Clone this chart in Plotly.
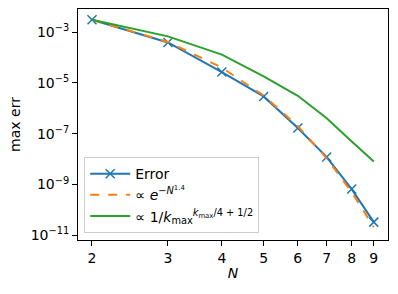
import plotly.graph_objects as go

N = [2, 3, 4, 5, 6, 7, 8, 9]
err = [3.05e-3, 3.89e-4, 2.66e-5, 2.92e-6, 1.66e-7, 1.20e-8, 6.6e-10, 3.3e-11]
fit_exp = [3.05e-3, 4.07e-4, 3.98e-5, 3.16e-6, 2.0e-7, 1.07e-8, 5.0e-10, 2.1e-11]
fit_k = [3.05e-3, 6.76e-4, 1.29e-4, 1.78e-5, 3.09e-6, 4.07e-7, 4.9e-8, 8.1e-9]
x_ticks = [2, 3, 4, 5, 6, 7, 8, 9]
y_ticks = [1e-3, 1e-5, 1e-7, 1e-9, 1e-11]
y_tick_text = ["10<sup>−3</sup>", "10<sup>−5</sup>", "10<sup>−7</sup>", "10<sup>−9</sup>", "10<sup>−11</sup>"]

font = "DejaVu Sans"
fig = go.Figure()
fig.add_trace(go.Scatter(x=N, y=err, mode="lines+markers", name="Error",
                         line=dict(color="#1f77b4", width=2),
                         marker=dict(symbol="x-thin", size=9, line=dict(color="#1f77b4", width=1.5))))
fig.add_trace(go.Scatter(x=N, y=fit_exp, mode="lines", name="∝ <i>e</i><sup>−<i>N</i><sup>1.4</sup></sup>",
                         line=dict(color="#ff7f0e", width=2, dash="dash")))
fig.add_trace(go.Scatter(x=N, y=fit_k, mode="lines",
                         name="∝ 1/<i>k</i><sub>max</sub><sup><i>k</i><sub>max</sub>/4 + 1/2</sup>",
                         line=dict(color="#2ca02c", width=2)))

axis_common = dict(showgrid=False, zeroline=False, showline=True, linecolor="black", linewidth=1,
                   mirror=True, ticks="outside", ticklen=5, tickwidth=1, tickcolor="black",
                   tickfont=dict(family=font, size=14, color="black"))
fig.update_xaxes(type="log", range=[0.2686, 0.9872], tickvals=x_ticks, ticktext=[str(v) for v in x_ticks],
                 title=dict(text="<i>N</i>", font=dict(family=font, size=14, color="black"), standoff=3),
                 **axis_common)
fig.update_yaxes(type="log", range=[-11.185, -2.094], tickvals=y_ticks, ticktext=y_tick_text,
                 title=dict(text="max err", font=dict(family=font, size=14, color="black"), standoff=6),
                 **axis_common)
fig.update_layout(width=398, height=294, margin=dict(l=78, r=10, t=9, b=54),
                  paper_bgcolor="white", plot_bgcolor="white",
                  font=dict(family=font, size=14, color="black"),
                  legend=dict(x=0.02, y=0.03, xanchor="left", yanchor="bottom",
                              bgcolor="rgba(255,255,255,0.8)", bordercolor="#cccccc", borderwidth=1,
                              font=dict(family=font, size=14), tracegroupgap=0, itemwidth=40))
fig.write_html("out.html")
